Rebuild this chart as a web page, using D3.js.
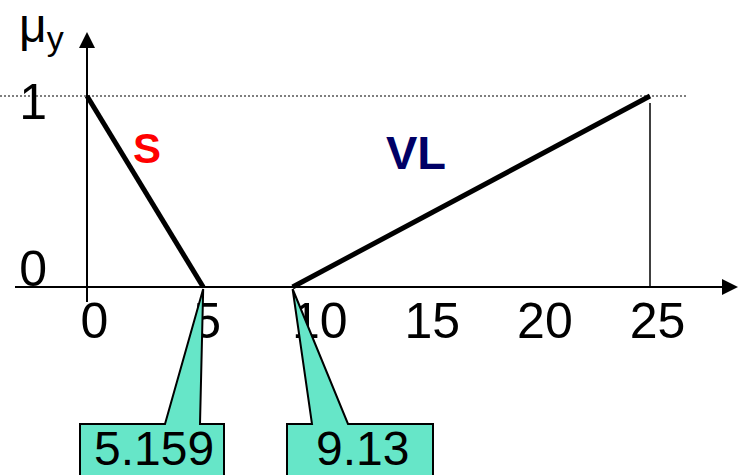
<!DOCTYPE html>
<html>
<head>
<meta charset="utf-8">
<script src="https://cdn.jsdelivr.net/npm/d3@7"></script>
<style>
  body { margin: 0; background: #fff; }
  text { font-family: "Liberation Sans", Arial, sans-serif; }
</style>
</head>
<body>
<svg width="738" height="475"></svg>
<script>
// membership functions
const sPoints = [[0, 1], [5.159, 0]];
const vlPoints = [[9.13, 0], [25, 1]];
const xTicks = [0, 5, 10, 15, 20, 25];
const yTicks = [0, 1];
const callouts = [
  { label: "5.159", value: 5.159 },
  { label: "9.13", value: 9.13 }
];

const svg = d3.select("svg");
const x = d3.scaleLinear().domain([0, 25]).range([87, 650]);
const y = d3.scaleLinear().domain([0, 1]).range([287, 96]);

// dotted line at mu = 1
svg.append("line")
  .attr("x1", 0).attr("x2", 686)
  .attr("y1", y(1)).attr("y2", y(1))
  .attr("stroke", "#000").attr("stroke-width", 1.2)
  .attr("stroke-dasharray", "2,2");

// thin vertical at 25
svg.append("line")
  .attr("x1", x(25)).attr("x2", x(25))
  .attr("y1", y(1) + 7).attr("y2", y(0))
  .attr("stroke", "#000").attr("stroke-width", 1.5);

// axes lines with arrows
svg.append("line")
  .attr("x1", 15).attr("x2", 726)
  .attr("y1", y(0)).attr("y2", y(0))
  .attr("stroke", "#000").attr("stroke-width", 2);
svg.append("path")
  .attr("d", `M738,${y(0)} L722,${y(0) - 8} L722,${y(0) + 8} Z`)
  .attr("fill", "#000");

svg.append("line")
  .attr("x1", x(0)).attr("x2", x(0))
  .attr("y1", 44).attr("y2", 302)
  .attr("stroke", "#000").attr("stroke-width", 2);
svg.append("path")
  .attr("d", `M${x(0)},32 L${x(0) - 8},48 L${x(0) + 8},48 Z`)
  .attr("fill", "#000");

// tick labels
const xAxis = svg.append("g")
  .attr("transform", `translate(0,${y(0)})`)
  .call(d3.axisBottom(x).tickValues(xTicks).tickSize(0).tickPadding(0));
xAxis.select(".domain").remove();
xAxis.selectAll("text")
  .attr("y", 51).attr("dy", 0).attr("dx", 7)
  .attr("fill", "#000")
  .style("font-size", "50px")
  .style("font-family", "'Liberation Sans', Arial, sans-serif");

const yAxis = svg.append("g")
  .attr("transform", "translate(47,0)")
  .call(d3.axisLeft(y).tickValues(yTicks).tickFormat(d3.format("d")).tickSize(0).tickPadding(0));
yAxis.select(".domain").remove();
yAxis.selectAll("text")
  .attr("x", 0)
  .attr("dy", d => d === 0 ? "-0.04em" : "0.44em")
  .attr("fill", "#000")
  .style("font-size", "50px")
  .style("font-family", "'Liberation Sans', Arial, sans-serif");

// axis title mu_y
const title = svg.append("text").attr("x", 19).attr("y", 42)
  .style("font-size", "48px");
title.append("tspan").text("μ");
title.append("tspan").attr("dy", 8).style("font-size", "34px").text("y");

// lines
const line = d3.line().x(d => x(d[0])).y(d => y(d[1]));
[sPoints, vlPoints].forEach(pts => {
  svg.append("path")
    .attr("d", line(pts))
    .attr("fill", "none")
    .attr("stroke", "#000")
    .attr("stroke-width", 5);
});

svg.append("text").attr("x", 147).attr("y", 163)
  .attr("text-anchor", "middle")
  .attr("fill", "#ff0000")
  .style("font-size", "42px").style("font-weight", "bold")
  .text("S");
svg.append("text").attr("x", 386).attr("y", 169)
  .attr("fill", "#000066")
  .style("font-size", "47px").style("font-weight", "bold")
  .text("VL");

// callouts
const boxes = [
  { x0: 80, x1: 224, b0: 165, b1: 200, tx: 94 },
  { x0: 287, x1: 433, b0: 312, b1: 348, tx: 316 }
];
callouts.forEach((c, i) => {
  const b = boxes[i];
  const top = 424, bottom = 482;
  const tipX = x(c.value), tipY = y(0) + 2;
  svg.append("path")
    .attr("d", `M${b.x0},${top} L${b.b0},${top} L${tipX},${tipY} L${b.b1},${top} L${b.x1},${top} L${b.x1},${bottom} L${b.x0},${bottom} Z`)
    .attr("fill", "#66e6c8")
    .attr("stroke", "#000")
    .attr("stroke-width", 2);
  svg.append("text").attr("x", b.tx).attr("y", 465)
    .style("font-size", "48px")
    .text(c.label);
});
</script>
</body>
</html>
